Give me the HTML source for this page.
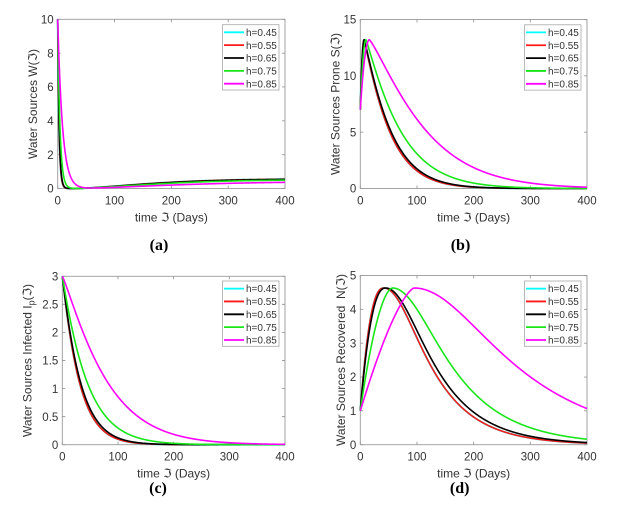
<!DOCTYPE html>
<html><head><meta charset="utf-8"><style>
html,body{margin:0;padding:0;background:#fff;}
svg{display:block;}
text{font-family:"Liberation Sans","DejaVu Sans",sans-serif;fill:#333;}
.tk{font-size:11.5px;}
.lb{font-size:12px;}
.lg{font-size:10px;fill:#222;}
.pl{font-family:"Liberation Serif",serif;font-weight:bold;font-size:16px;fill:#000;}
</style></head><body>
<svg id="s" xmlns="http://www.w3.org/2000/svg" width="626" height="514" viewBox="0 0 626 514">
<rect width="626" height="514" fill="#fff"/>
<g id="axes"></g>
<g id="data"></g>
<g id="leg"></g>

<!-- Panel a text -->
<g class="tk" text-anchor="end">
<text x="53.7" y="192.7">0</text><text x="53.7" y="158.9">2</text><text x="53.7" y="125">4</text><text x="53.7" y="91.2">6</text><text x="53.7" y="57.3">8</text><text x="53.7" y="23.5">10</text>
</g>
<g class="tk" text-anchor="middle">
<text x="57.7" y="204.3">0</text><text x="114.5" y="204.3">100</text><text x="171.35" y="204.3">200</text><text x="228.2" y="204.3">300</text><text x="285" y="204.3">400</text>
</g>
<text class="lb" x="171.35" y="221.5" text-anchor="middle">time ℑ (Days)</text>
<text class="lb" transform="translate(36.8,104) rotate(-90)" text-anchor="middle">Water Sources W(ℑ)</text>
<text class="pl" x="159" y="250" text-anchor="middle">(a)</text>

<!-- Panel b text -->
<g class="tk" text-anchor="end">
<text x="356.3" y="192.7">0</text><text x="356.3" y="136.4">5</text><text x="356.3" y="80">10</text><text x="356.3" y="23.7">15</text>
</g>
<g class="tk" text-anchor="middle">
<text x="360.3" y="204.3">0</text><text x="416.98" y="204.3">100</text><text x="473.65" y="204.3">200</text><text x="530.33" y="204.3">300</text><text x="587" y="204.3">400</text>
</g>
<text class="lb" x="473.65" y="221.5" text-anchor="middle">time ℑ (Days)</text>
<text class="lb" transform="translate(339.3,104) rotate(-90)" text-anchor="middle">Water Sources Prone S(ℑ)</text>
<text class="pl" x="460.5" y="250" text-anchor="middle">(b)</text>

<!-- Panel c text -->
<g class="tk" text-anchor="end">
<text x="58.3" y="448.9">0</text><text x="58.3" y="420.8">0.5</text><text x="58.3" y="392.8">1</text><text x="58.3" y="364.7">1.5</text><text x="58.3" y="336.6">2</text><text x="58.3" y="308.6">2.5</text><text x="58.3" y="280.5">3</text>
</g>
<g class="tk" text-anchor="middle">
<text x="62.3" y="460.5">0</text><text x="117.98" y="460.5">100</text><text x="173.65" y="460.5">200</text><text x="229.33" y="460.5">300</text><text x="285" y="460.5">400</text>
</g>
<text class="lb" x="173.65" y="477.5" text-anchor="middle">time ℑ (Days)</text>
<text class="lb" transform="translate(31.5,360.5) rotate(-90)" text-anchor="middle">Water Sources Infected I<tspan font-size="9" dy="3">p</tspan><tspan dy="-3">(ℑ)</tspan></text>
<text class="pl" x="158" y="493" text-anchor="middle">(c)</text>

<!-- Panel d text -->
<g class="tk" text-anchor="end">
<text x="356.3" y="448.9">0</text><text x="356.3" y="415.1">1</text><text x="356.3" y="381.2">2</text><text x="356.3" y="347.4">3</text><text x="356.3" y="313.5">4</text><text x="356.3" y="279.7">5</text>
</g>
<g class="tk" text-anchor="middle">
<text x="360.3" y="460.5">0</text><text x="416.98" y="460.5">100</text><text x="473.65" y="460.5">200</text><text x="530.33" y="460.5">300</text><text x="587" y="460.5">400</text>
</g>
<text class="lb" x="473.65" y="477.5" text-anchor="middle">time ℑ (Days)</text>
<text class="lb" transform="translate(345,360) rotate(-90)" text-anchor="middle" xml:space="preserve">Water Sources Recovered  N(ℑ)</text>
<text class="pl" x="459.7" y="493" text-anchor="middle">(d)</text>

<!-- Legend texts -->
<g class="lg">
<text x="246" y="35.9">h=0.45</text><text x="246" y="48.75">h=0.55</text><text x="246" y="61.6">h=0.65</text><text x="246" y="74.45">h=0.75</text><text x="246" y="87.3">h=0.85</text>
<text x="548" y="36">h=0.45</text><text x="548" y="48.85">h=0.55</text><text x="548" y="61.7">h=0.65</text><text x="548" y="74.55">h=0.75</text><text x="548" y="87.4">h=0.85</text>
<text x="246" y="292.2">h=0.45</text><text x="246" y="305.05">h=0.55</text><text x="246" y="317.9">h=0.65</text><text x="246" y="330.75">h=0.75</text><text x="246" y="343.6">h=0.85</text>
<text x="548" y="292.2">h=0.45</text><text x="548" y="305.05">h=0.55</text><text x="548" y="317.9">h=0.65</text><text x="548" y="330.75">h=0.75</text><text x="548" y="343.6">h=0.85</text>
</g>
</svg>
<script>
(function(){
var NS="http://www.w3.org/2000/svg";
var gA=document.getElementById('axes'),gD=document.getElementById('data'),gL=document.getElementById('leg');
function el(par,tag,attrs){var e=document.createElementNS(NS,tag);for(var k in attrs)e.setAttribute(k,attrs[k]);par.appendChild(e);return e;}
var P={
 a:{x0:57.7,x1:285,y0:188.5,y1:19.3,ymax:10,yt:[0,2,4,6,8,10],lx:222.5,ly:24.7},
 b:{x0:360.3,x1:587,y0:188.5,y1:19.5,ymax:15,yt:[0,5,10,15],lx:524.5,ly:24.8},
 c:{x0:62.3,x1:285,y0:444.7,y1:276.3,ymax:3,yt:[0,0.5,1,1.5,2,2.5,3],lx:222.5,ly:281},
 d:{x0:360.3,x1:587,y0:444.7,y1:275.5,ymax:5,yt:[0,1,2,3,4,5],lx:524.5,ly:281}
};
var AX="#9a9a9a";
function X(p,t){return p.x0+(p.x1-p.x0)*t/400;}
function Y(p,v){return p.y0-(p.y0-p.y1)*v/p.ymax;}
for(var k in P){var p=P[k];
 el(gA,'rect',{x:p.x0,y:p.y1,width:p.x1-p.x0,height:p.y0-p.y1,fill:'#fff',stroke:AX,'stroke-width':0.9});
 var d='';
 for(var t=0;t<=400;t+=100){var x=X(p,t);d+='M'+x+' '+p.y0+'V'+(p.y0-3)+'M'+x+' '+p.y1+'V'+(p.y1+3);}
 p.yt.forEach(function(v){var y=Y(p,v);d+='M'+p.x0+' '+y+'H'+(p.x0+3)+'M'+p.x1+' '+y+'H'+(p.x1-3);});
 el(gA,'path',{d:d,stroke:AX,'stroke-width':0.9,fill:'none'});
}
function curve(p,f,col,w){var d='';for(var i=0;i<=800;i++){var t=i*0.5,v=f(t);if(v>p.ymax)v=p.ymax;if(v<0)v=0;d+=(i?'L':'M')+X(p,t).toFixed(2)+' '+Y(p,v).toFixed(2);}
 el(gD,'path',{d:d,fill:'none',stroke:col,'stroke-width':w||1.6,'stroke-linejoin':'round'});}
var COL=['#00ffff','#ff1a1a','#000000','#19e619','#ff00ff'];
// Panel a
function W(t1,A,sc){return function(t){return 10*Math.exp(-t/t1)+(t>30?A*(1-Math.exp(-Math.pow((t-30)/sc,1.5))):0);};}
var fa=[W(2.4,0.57,165),W(2.4,0.57,165),W(2.6,0.56,170),W(4,0.52,180),W(8.5,0.41,220)];
// Panel b
function S(tp,tau,pw){return function(t){if(t<tp){var u=1-t/tp;return 7+6.2*(1-u*u);}return 13.2*Math.exp(-Math.pow((t-tp)/tau,pw));};}
var fb=[S(6.5,47,1.1),S(6.5,47,1.1),S(7,49,1.1),S(10,64,1.1),S(16,105,1.2)];
// Panel c
function I(tau,pw){return function(t){return 3*Math.exp(-Math.pow(t/tau,pw));};}
var fc=[I(31,1.05),I(31,1.05),I(33,1.05),I(45,1.05),I(82,1.15)];
// Panel d
function lncosh(x){x=Math.abs(x);return x+Math.log(1+Math.exp(-2*x))-Math.LN2;}
function N(tp,kk,w,q){return function(t){if(t<tp){return 1+3.63*(1-Math.pow(1-t/tp,kk));}return 4.63*Math.exp(-q*lncosh((t-tp)/w));};}
var fd=[N(42,2.5,53,0.757),N(42,2.5,53,0.757),N(45,2.4,56,0.757),N(57,1.8,67,0.757),N(95,1.45,113,0.73)];
var FS={a:fa,b:fb,c:fc,d:fd};
for(k in FS){for(var j=0;j<5;j++){curve(P[k],FS[k][j],COL[j],j==0?1.9:1.6);}}
// Legends
for(k in P){p=P[k];
 el(gL,'rect',{x:p.lx,y:p.ly,width:56.5,height:65.3,fill:'#fff',stroke:'#a8a8a8','stroke-width':0.8});
 for(j=0;j<5;j++){var yy=p.ly+7.6+12.85*j;el(gL,'path',{d:'M'+(p.lx+1.5)+' '+yy+'H'+(p.lx+21.5),stroke:COL[j],'stroke-width':1.8,fill:'none'});}
}
})();
</script>
</body></html>
